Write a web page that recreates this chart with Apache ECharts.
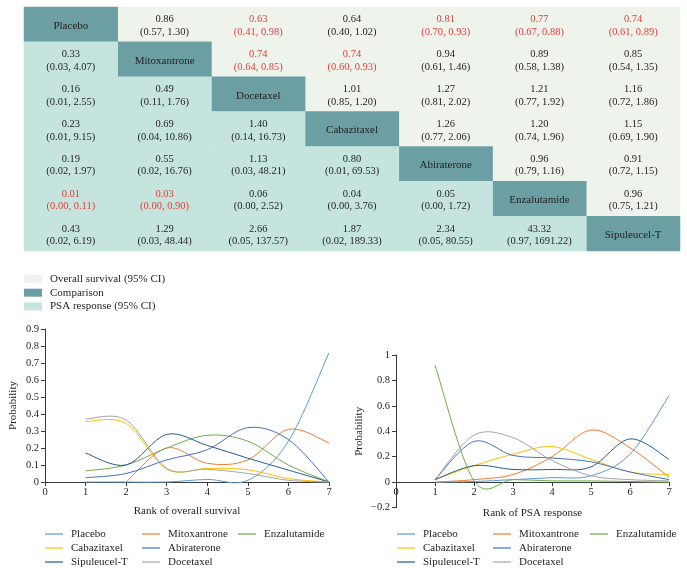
<!DOCTYPE html>
<html><head><meta charset="utf-8">
<script src="https://cdn.jsdelivr.net/npm/echarts@6/dist/echarts.min.js"></script>
<style>html,body{margin:0;padding:0;background:#fff}#c{width:687px;height:574px}</style>
</head><body><div id="c"></div>
<script>
// ---------- table data ----------
const treatments = ["Placebo","Mitoxantrone","Docetaxel","Cabazitaxel","Abiraterone","Enzalutamide","Sipuleucel-T"];
// upper triangle (overall survival), row by row: [estimate, lower, upper]
const osComparisons = [
  [["0.86","0.57","1.30"],["0.63","0.41","0.98"],["0.64","0.40","1.02"],["0.81","0.70","0.93"],["0.77","0.67","0.88"],["0.74","0.61","0.89"]],
  [["0.74","0.64","0.85"],["0.74","0.60","0.93"],["0.94","0.61","1.46"],["0.89","0.58","1.38"],["0.85","0.54","1.35"]],
  [["1.01","0.85","1.20"],["1.27","0.81","2.02"],["1.21","0.77","1.92"],["1.16","0.72","1.86"]],
  [["1.26","0.77","2.06"],["1.20","0.74","1.96"],["1.15","0.69","1.90"]],
  [["0.96","0.79","1.16"],["0.91","0.72","1.15"]],
  [["0.96","0.75","1.21"]]
];
// lower triangle (PSA response), rows 2..7
const psaComparisons = [
  [["0.33","0.03","4.07"]],
  [["0.16","0.01","2.55"],["0.49","0.11","1.76"]],
  [["0.23","0.01","9.15"],["0.69","0.04","10.86"],["1.40","0.14","16.73"]],
  [["0.19","0.02","1.97"],["0.55","0.02","16.76"],["1.13","0.03","48.21"],["0.80","0.01","69.53"]],
  [["0.01","0.00","0.11"],["0.03","0.00","0.90"],["0.06","0.00","2.52"],["0.04","0.00","3.76"],["0.05","0.00","1.72"]],
  [["0.43","0.02","6.19"],["1.29","0.03","48.44"],["2.66","0.05","137.57"],["1.87","0.02","189.33"],["2.34","0.05","80.55"],["43.32","0.97","1691.22"]]
];
const tableLegend = ["Overall survival (95% CI)","Comparison","PSA response (95% CI)"];

// ---------- rank probability data ----------
const ranks = [1,2,3,4,5,6,7];
const seriesNames = ["Placebo","Mitoxantrone","Enzalutamide","Cabazitaxel","Abiraterone","Sipuleucel-T","Docetaxel"];
const seriesColors = ["#5B9BD5","#ED7D31","#70AD47","#FFC000","#4472C4","#255E91","#A5A5A5"];
const osPlacebo      = [0, 0, 0, 0.015, 0.01, 0.24, 0.76];
const osMitoxantrone = [null, 0, 0.2, 0.11, 0.13, 0.31, 0.23];
const osEnzalutamide = [0.065, 0.1, 0.2, 0.275, 0.24, 0.1, 0];
const osCabazitaxel  = [0.355, 0.345, 0.075, 0.08, 0.072, 0.02, 0];
const osAbiraterone  = [0.025, 0.05, 0.13, 0.19, 0.32, 0.25, 0];
const osSipuleucelT  = [0.17, 0.1, 0.28, 0.215, 0.14, 0.07, 0];
const osDocetaxel    = [0.37, 0.365, 0.08, 0.075, 0.05, 0.01, 0];
const psaPlacebo      = [0, 0.005, 0.02, 0.035, 0.05, 0.22, 0.68];
const psaMitoxantrone = [0, 0.02, 0.06, 0.2, 0.41, 0.27, 0.04];
const psaEnzalutamide = [0.92, 0.01, 0.02, 0.01, 0.01, 0.005, 0];
const psaCabazitaxel  = [0.02, 0.13, 0.22, 0.28, 0.18, 0.08, 0.06];
const psaAbiraterone  = [0.02, 0.32, 0.21, 0.19, 0.16, 0.08, 0.02];
const psaSipuleucelT  = [0.02, 0.13, 0.1, 0.1, 0.12, 0.34, 0.18];
const psaDocetaxel    = [0.02, 0.37, 0.35, 0.17, 0.05, 0.02, 0.01];
const osSets  = [osPlacebo, osMitoxantrone, osEnzalutamide, osCabazitaxel, osAbiraterone, osSipuleucelT, osDocetaxel];
const psaSets = [psaPlacebo, psaMitoxantrone, psaEnzalutamide, psaCabazitaxel, psaAbiraterone, psaSipuleucelT, psaDocetaxel];
const legendColumns = [["Placebo","Cabazitaxel","Sipuleucel-T"],["Mitoxantrone","Abiraterone","Docetaxel"],["Enzalutamide"]];
const psaYMin = -0.2, psaYMax = 1;

// ---------- build ----------
const FONT = "Liberation Serif";
const RED = "#e2413b", INK = "#231f20", AXIS = "#3a3a3a";
function cell(col,row,t){
  return {value:[col,row,1], txt: t[0] + "\n(" + t[1] + ", " + t[2] + ")",
          label:{color: parseFloat(t[2]) < 1 ? RED : INK}};
}
const osData = [], psaData = [], diagData = [];
osComparisons.forEach((r,ri)=>r.forEach((t,k)=>osData.push(cell(ri+1+k, ri, t))));
psaComparisons.forEach((r,ri)=>r.forEach((t,c)=>psaData.push(cell(c, ri+1, t))));
treatments.forEach((n,i)=>diagData.push({value:[i,i,1], txt:n, label:{color:INK, fontSize:11}}));

const cellLabel = {show:true, fontFamily:FONT, fontSize:10.5, lineHeight:12.5, offset:[0,1.5], formatter:p=>p.data.txt};
const series = [
  {name:tableLegend[0], type:'heatmap', xAxisIndex:0, yAxisIndex:0, data:osData, itemStyle:{color:'#eef3ec'}, label:cellLabel, emphasis:{disabled:true}},
  {name:tableLegend[1], type:'heatmap', xAxisIndex:0, yAxisIndex:0, data:diagData, itemStyle:{color:'#6c9fa4'}, label:cellLabel, emphasis:{disabled:true}},
  {name:tableLegend[2], type:'heatmap', xAxisIndex:0, yAxisIndex:0, data:psaData, itemStyle:{color:'#c4e4dd'}, label:cellLabel, emphasis:{disabled:true}}
];

// smooth (Catmull-Rom style) curve through the data points, positioned by the axes
function splineRenderer(color){
  return function(params, api){
    const i = params.dataIndexInside, n = params.dataInsideLength;
    if (i >= n - 1) return null;
    const P = j => { j = Math.max(0, Math.min(n - 1, j)); return api.coord([api.value(0, j), api.value(1, j)]); };
    const p0 = P(i - 1), p1 = P(i), p2 = P(i + 1), p3 = P(i + 2), t = 1 / 6;
    return {type:'bezierCurve', silent:true,
      shape:{x1:p1[0], y1:p1[1], x2:p2[0], y2:p2[1],
        cpx1:p1[0] + (p2[0] - p0[0]) * t, cpy1:p1[1] + (p2[1] - p0[1]) * t,
        cpx2:p2[0] - (p3[0] - p1[0]) * t, cpy2:p2[1] - (p3[1] - p1[1]) * t},
      style:{stroke:color, fill:null, lineWidth:1}};
  };
}
function addLines(sets, gi){
  sets.forEach((vals,i)=>{
    const d = [];
    vals.forEach((v,j)=>{ if (v !== null) d.push([ranks[j], v]); });
    series.push({name:seriesNames[i], type:'custom', xAxisIndex:gi, yAxisIndex:gi, data:d,
      encode:{x:0, y:1}, itemStyle:{color:seriesColors[i]}, renderItem:splineRenderer(seriesColors[i]), z:3});
  });
}
addLines(osSets, 1);
addLines(psaSets, 2);

const axisLabel = {color:INK, fontFamily:FONT, fontSize:10.5};
const nameStyle = {color:INK, fontFamily:FONT, fontSize:11};
const tick = {show:true, length:4, lineStyle:{color:AXIS}};
const legendText = {fontFamily:FONT, fontSize:11, color:INK, lineHeight:11};
const legends = [{
  orient:'vertical', left:24, top:273.5, padding:0, itemWidth:18, itemHeight:8, itemGap:2.7, icon:'rect',
  data:tableLegend, textStyle:{...legendText, padding:[0,0,0,3]}, selectedMode:false
}];
[[45,142,238],[397,493,590]].forEach(cols=>{
  cols.forEach((x,ci)=>legends.push({orient:'vertical', left:x, top:528.5, padding:0, height:60,
    itemWidth:18, itemHeight:1.2, itemGap:3, icon:'rect',
    data:legendColumns[ci], selectedMode:false,
    textStyle:{...legendText, padding:[0,0,0,3]}}));
});

const psaGridH = 152.6;
const option = {
  animation:false,
  backgroundColor:'#fff',
  textStyle:{fontFamily:FONT},
  legend: legends,
  grid:[
    {left:24, top:7, width:656, height:244},
    {left:45, top:329, width:284, height:153},
    {left:396, top:355, width:273, height:psaGridH}
  ],
  xAxis:[
    {gridIndex:0, type:'category', data:treatments, show:false},
    {gridIndex:1, type:'value', min:0, max:7, interval:1,
      axisLine:{show:true, lineStyle:{color:AXIS}}, axisTick:tick,
      splitLine:{show:false}, axisLabel:{...axisLabel, margin:5},
      name:'Rank of overall survival', nameLocation:'middle', nameGap:24, nameTextStyle:nameStyle},
    {gridIndex:2, type:'value', min:0, max:7, interval:1,
      offset: -psaGridH * (0 - psaYMin) / (psaYMax - psaYMin),
      axisLine:{show:true, onZero:false, lineStyle:{color:AXIS}}, axisTick:tick,
      splitLine:{show:false}, axisLabel:{...axisLabel, margin:5},
      name:'Rank of PSA response', nameLocation:'middle', nameGap:25, nameTextStyle:nameStyle}
  ],
  yAxis:[
    {gridIndex:0, type:'category', data:treatments, inverse:true, show:false},
    {gridIndex:1, type:'value', min:0, max:0.9, interval:0.1, axisLine:{show:true, lineStyle:{color:AXIS}},
      axisTick:tick, splitLine:{show:false},
      axisLabel:{...axisLabel, margin:6},
      name:'Probability', nameLocation:'middle', nameGap:26, nameRotate:90, nameTextStyle:nameStyle},
    {gridIndex:2, type:'value', min:psaYMin, max:psaYMax, interval:0.2, axisLine:{show:true, lineStyle:{color:AXIS}},
      axisTick:tick, splitLine:{show:false},
      axisLabel:{...axisLabel, margin:6, formatter:v=>String(Math.round(v*10)/10).replace('-', '\u2212')},
      name:'Probability', nameLocation:'middle', nameGap:31, nameRotate:90, nameTextStyle:nameStyle}
  ],
  series
};
const chart = echarts.init(document.getElementById('c'), null, {renderer:'canvas'});
chart.setOption(option);
</script>
</body></html>
